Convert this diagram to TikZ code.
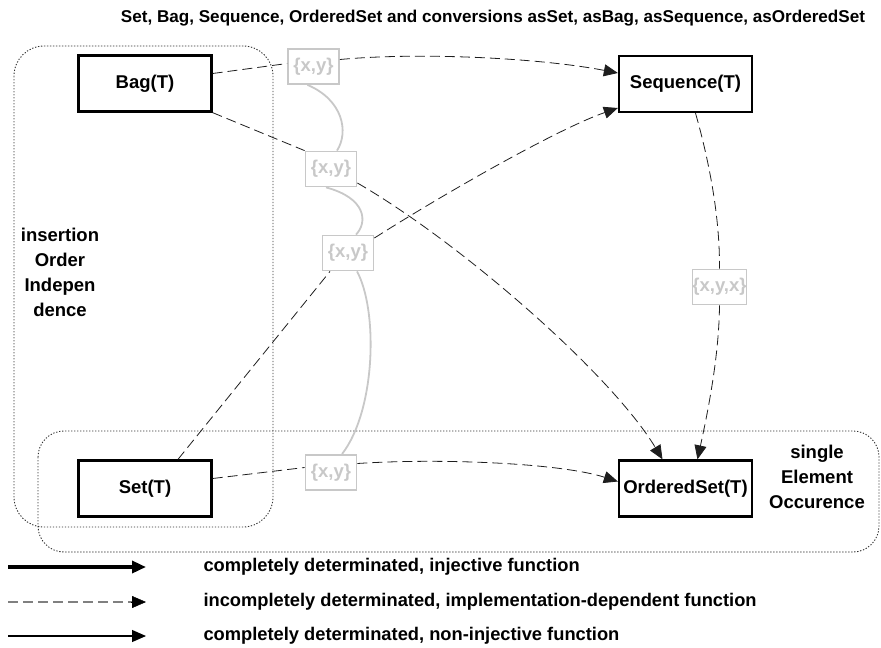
\documentclass[tikz,border=0pt]{standalone}
\usepackage{fontspec}
\setmainfont{Liberation Sans}
\usetikzlibrary{arrows.meta, positioning}
\definecolor{cink}{HTML}{000000}
\definecolor{cpale}{HTML}{C8C8C8}
\definecolor{cwire}{HTML}{1E1E1E}
\definecolor{cframe}{HTML}{303030}
\definecolor{ckey}{HTML}{808080}

\begin{document}
\begin{tikzpicture}[
  x=1pt, y=-1pt,
  font=\bfseries\fontsize{18.5}{25}\selectfont,
  kind/.style={draw=cink, text=cink, line width=2.3pt, minimum width=133pt,
               minimum height=56pt, inner sep=0pt},
  elem/.style={draw=cpale, text=cpale, fill=white, line width=1.8pt,
               minimum width=51pt, minimum height=35pt, inner sep=0pt},
  frame/.style={draw=cframe, line width=0.9pt, dash pattern=on 1.3pt off 1.7pt},
  note/.style={text=cink, align=center},
  conv/.style={draw=cwire, line width=0.8pt, dash pattern=on 10pt off 5pt},
  tip/.style={-{Triangle[length=14pt, width=12pt]}},
  trail/.style={draw=cpale, line width=1.8pt},
  keytext/.style={text=cink, anchor=west, font=\bfseries\fontsize{18.3}{22}\selectfont}
]
\useasboundingbox (0,0) rectangle (881,648);

% title
\node[text=cink, font=\bfseries\fontsize{17.1}{20}\selectfont] (title) at (493,18)
  {Set, Bag, Sequence, OrderedSet and conversions asSet, asBag, asSequence, asOrderedSet};

% frames
\draw[frame, rounded corners=30pt] (14,46) rectangle (273,527);
\draw[frame, rounded corners=26pt] (38,431) rectangle (879,552);
\node[note] (ins) at (60,272) {insertion\\Order\\Indepen\\dence};
\node[note] (sgl) at (817,477) {single\\Element\\Occurence};

% collection types
\node[kind] (bag) at (145,83.5) {Bag(T)};
\node[kind] (seq) at (685.5,84) {Sequence(T)};
\node[kind] (set) at (145,488.5) {Set(T)};
\node[kind] (oset) at (685.5,488.5) {OrderedSet(T)};

% sample elements
\node[elem] (e1) at (313.5,66.5) {\{x,y\}};
\node[elem] (e2) at (331,169) {\{x,y\}};
\node[elem] (e3) at (348,253) {\{x,y\}};
\node[elem] (e4) at (331,472.5) {\{x,y\}};
\node[elem] (e5) at (719.5,287) {\{x,y,x\}};

% element trail
\draw[trail] ([xshift=-6pt]e1.south) .. controls (343,100) and (349,132) .. ([xshift=6pt]e2.north);
\draw[trail] ([xshift=-5pt]e2.south) .. controls (366,198) and (368,222) .. ([xshift=8pt]e3.north);
\draw[trail] ([xshift=9pt]e3.south) .. controls (378,310) and (376,410) .. ([xshift=11pt]e4.north);

% conversions
\draw[conv] ([yshift=10pt]bag.east) -- ([yshift=3pt]e1.west);
\draw[conv, tip] ([yshift=7pt]e1.east) .. controls (420,52) and (540,58) .. ([yshift=11pt]seq.west);
\draw[conv] (bag.south east) -- (e2.north west);
\draw[conv, tip] ([yshift=-14pt]e2.east) .. controls (461,243) and (611,374) .. ([xshift=-23pt]oset.north);
\draw[conv] ([xshift=33pt]set.north) -- ([xshift=-18pt]e3.south);
\draw[conv, tip] ([yshift=15pt]e3.east) .. controls (450,190) and (560,128) .. ([yshift=-24pt]seq.west);
\draw[conv] ([yshift=10pt]set.east) -- ([yshift=5pt]e4.west);
\draw[conv, tip] ([yshift=9pt]e4.east) .. controls (440,458) and (560,463) .. ([yshift=7pt]oset.west);
\draw[conv] ([xshift=10pt]seq.south) .. controls (706,150) and (720,210) .. (e5.north);
\draw[conv, tip] (e5.south) .. controls (719,360) and (706,420) .. ([xshift=12pt]oset.north);

% legend
\coordinate (k1a) at (8,567);  \coordinate (k1b) at (146,567);
\coordinate (k2a) at (8,602);  \coordinate (k2b) at (146,602);
\coordinate (k3a) at (8,636);  \coordinate (k3b) at (146,636);
\draw[cink, line width=3.4pt, -{Triangle[length=14pt, width=12pt]}] (k1a) -- (k1b);
\draw[ckey, line width=1.2pt, dash pattern=on 10pt off 5pt] (k2a) -- ([xshift=-14pt]k2b);
\draw[cink, -{Triangle[length=14pt, width=12pt]}] ([xshift=-15pt]k2b) -- (k2b);
\draw[cink, line width=1.1pt, -{Triangle[length=14pt, width=12pt]}] (k3a) -- (k3b);
\node[keytext] (t1) at (200,567) {completely determinated, injective function};
\node[keytext] (t2) at (200,602) {incompletely determinated, implementation-dependent function};
\node[keytext] (t3) at (200,636) {completely determinated, non-injective function};
\end{tikzpicture}
\end{document}
